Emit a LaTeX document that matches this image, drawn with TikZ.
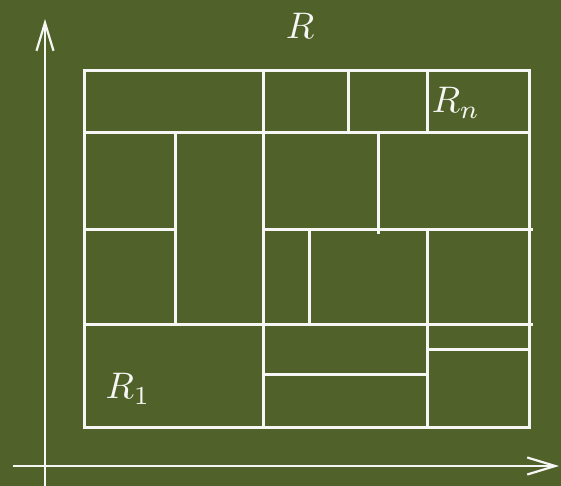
\documentclass[tikz,border=0pt]{standalone}
\usetikzlibrary{arrows.meta}
\definecolor{bgolive}{RGB}{80,98,41}
\definecolor{chalk}{RGB}{246,246,244}
\tikzset{
  part/.style={draw=chalk, line width=3pt, line cap=rect},
  axis/.style={draw=chalk, line width=2.6pt, -{Straight Barb[length=28pt, width=17pt, line width=2.2pt]}},
  lbl/.style={text=chalk, scale=3.7, inner sep=0pt}
}
\begin{document}
\begin{tikzpicture}[x=1pt, y=-1pt]
\fill[bgolive] (0,0) rectangle (561,486);
\useasboundingbox (0,0) rectangle (561,486);
% axes
\coordinate (ybot) at (45,486);
\coordinate (ytop) at (45,19);
\coordinate (xleft) at (13,466);
\coordinate (xright) at (559,466);
\draw[axis] (ybot) -- (ytop);
\draw[axis] (xleft) -- (xright);
% outer rectangle
\draw[part] (84,71) rectangle (529,427);
% full horizontal lines
\draw[part] (84,133) -- (529,133);
\draw[part] (84,324) -- (531,324);
\draw[part] (263,229) -- (531,229);
\draw[part] (84,229) -- (175,229);
% full vertical line
\draw[part] (263,71) -- (263,427);
% top row
\draw[part] (348,71) -- (348,133);
\draw[part] (427,71) -- (427,133);
% second row
\draw[part] (175,133) -- (175,324);
\draw[part] (378,133) -- (378,232);
% third row
\draw[part] (309,229) -- (309,324);
\draw[part] (427,229) -- (427,427);
% bottom row
\draw[part] (427,349) -- (529,349);
\draw[part] (263,374) -- (427,374);
% labels
\node[lbl] (R) at (300,26) {$R$};
\node[lbl] (Rn) at (456,103) {$R_n$};
\node[lbl] (R1) at (128,389) {$R_1$};
\end{tikzpicture}
\end{document}
